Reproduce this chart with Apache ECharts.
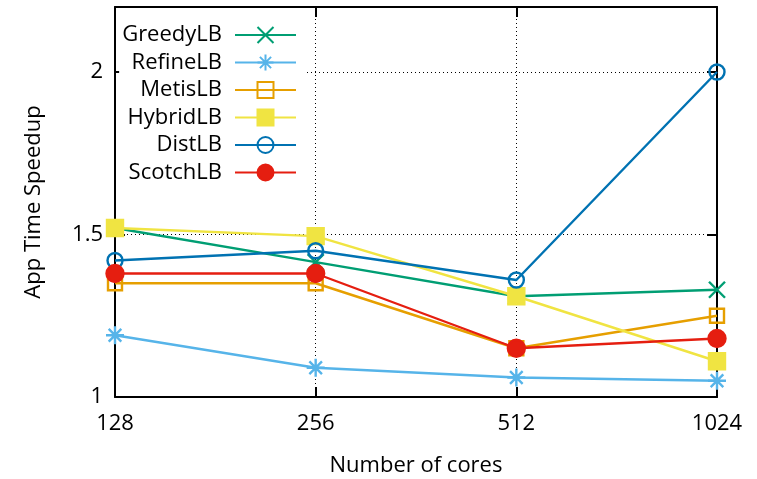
<!DOCTYPE html>
<html>
<head>
<meta charset="utf-8">
<script src="https://cdn.jsdelivr.net/npm/echarts@6/dist/echarts.min.js"></script>
<style>
  html, body { margin: 0; padding: 0; background: #fff; }
  #chart { width: 757px; height: 479px; }
</style>
</head>
<body>
<div id="chart"></div>
<script>
// Core counts on the x axis and the speedup measured for each balancer
var cores = ['128', '256', '512', '1024'];
var greedyLB = [1.52, 1.415, 1.31, 1.33];
var refineLB = [1.19, 1.09, 1.06, 1.05];
var metisLB = [1.35, 1.35, 1.15, 1.25];
var hybridLB = [1.52, 1.495, 1.31, 1.11];
var distLB = [1.42, 1.45, 1.36, 2.0];
var scotchLB = [1.38, 1.38, 1.15, 1.18];
var yTicks = [1, 1.5, 2];

var FONT = 'Open Sans';
var FS = 22;
var crossPath = 'path://M0,0L10,10M10,0L0,10';
var starPath = 'path://M5,0L5,10M0,5L10,5M1.5,1.5L8.5,8.5M8.5,1.5L1.5,8.5';

function series(name, data, color, symbol, size, filled) {
  return {
    name: name,
    type: 'line',
    data: data,
    symbol: symbol,
    symbolSize: size,
    showAllSymbol: true,
    lineStyle: { color: color, width: 2.4 },
    itemStyle: {
      color: filled ? color : 'transparent',
      borderColor: color,
      borderWidth: 2.4
    },
    emphasis: { disabled: true },
    animation: false
  };
}

var chart = echarts.init(document.getElementById('chart'), null, { renderer: 'canvas' });

var axisLineStyle = { color: '#000', width: 2 };
var tickStyle = { show: true, inside: true, length: 10, lineStyle: { color: '#000', width: 2 } };
var gridDots = { color: '#000', width: 1, type: [1, 3] };

chart.setOption({
  backgroundColor: '#fff',
  animation: false,
  textStyle: { fontFamily: FONT },
  grid: { left: 115, right: 40, top: 7, bottom: 82, containLabel: false, outerBoundsMode: 'none' },
  legend: {
    orient: 'vertical',
    align: 'right',
    right: 450,
    top: 14,
    padding: [10, 10, 8, 3],
    backgroundColor: '#fff',
    itemWidth: 61,
    itemHeight: 20,
    itemGap: 5.5,
    textStyle: { fontFamily: FONT, fontSize: FS, color: '#000', padding: [0, 8, 0, 0] },
    data: ['GreedyLB', 'RefineLB', 'MetisLB', 'HybridLB', 'DistLB', 'ScotchLB']
  },
  xAxis: [{
    type: 'category',
    data: cores,
    boundaryGap: false,
    position: 'bottom',
    name: 'Number of cores',
    nameLocation: 'middle',
    nameGap: 58,
    nameTextStyle: { fontFamily: FONT, fontSize: FS, color: '#000' },
    axisLine: { show: true, lineStyle: axisLineStyle },
    axisTick: tickStyle,
    axisLabel: { fontFamily: FONT, fontSize: FS, color: '#000', margin: 16 },
    splitLine: { show: true, lineStyle: gridDots }
  }, {
    type: 'category',
    data: cores,
    boundaryGap: false,
    position: 'top',
    axisLine: { show: true, lineStyle: axisLineStyle },
    axisTick: tickStyle,
    axisLabel: { show: false },
    splitLine: { show: false }
  }],
  yAxis: [{
    type: 'value',
    min: 1,
    max: 2.2,
    interval: 0.5,
    position: 'left',
    name: 'App Time Speedup',
    nameLocation: 'middle',
    nameRotate: 90,
    nameGap: 70,
    nameTextStyle: { fontFamily: FONT, fontSize: FS, color: '#000' },
    axisLine: { show: true, lineStyle: axisLineStyle },
    axisTick: tickStyle,
    axisLabel: {
      fontFamily: FONT, fontSize: FS, color: '#000', margin: 12,
      formatter: function (v) { return yTicks.indexOf(v) >= 0 ? String(v) : ''; }
    },
    splitLine: { show: true, lineStyle: gridDots }
  }, {
    type: 'value',
    min: 1,
    max: 2.2,
    interval: 0.5,
    position: 'right',
    axisLine: { show: true, lineStyle: axisLineStyle },
    axisTick: tickStyle,
    axisLabel: { show: false },
    splitLine: { show: false }
  }],
  series: [
    series('GreedyLB', greedyLB, '#009e73', crossPath, 16, false),
    series('RefineLB', refineLB, '#56b4e9', starPath, 18, false),
    series('MetisLB', metisLB, '#e69f00', 'rect', 14, false),
    series('HybridLB', hybridLB, '#f0e442', 'rect', 16, true),
    series('DistLB', distLB, '#0072b2', 'circle', 15, false),
    series('ScotchLB', scotchLB, '#e51e10', 'circle', 17, true)
  ]
});
</script>
</body>
</html>
